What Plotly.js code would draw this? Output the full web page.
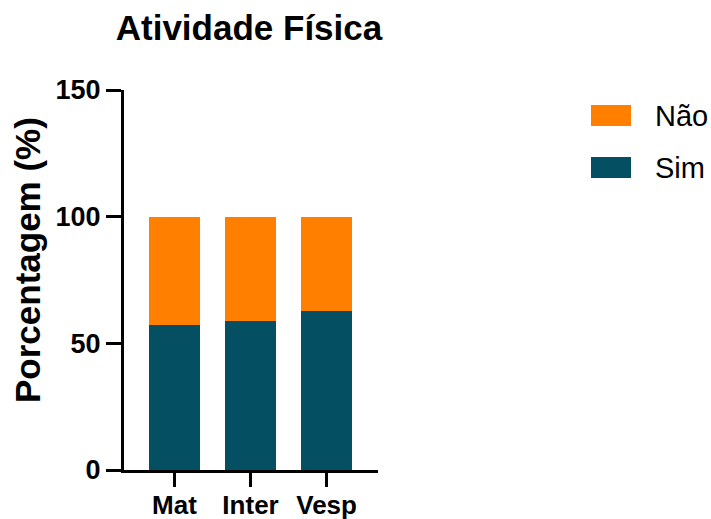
<!DOCTYPE html>
<html>
<head>
<meta charset="utf-8">
<script src="https://cdn.plot.ly/plotly-3.0.1.min.js"></script>
<style>html,body{margin:0;padding:0;background:#fff;}#chart{width:711px;height:519px;}</style>
</head>
<body>
<div id="chart"></div>
<script>
const categories = ["Mat", "Inter", "Vesp"];
const simValues = [57.4, 58.9, 62.9];
const naoValues = [42.6, 41.1, 37.1];
const seriesNames = ["Sim", "Não"];
const seriesColors = ["#044F62", "#FF8000"];
const yTicks = [0, 50, 100, 150];

const FONT = "Arial, 'Liberation Sans', sans-serif";
const L = 124, T = 90, W = 254, H = 380;
const px = (x) => (x - L) / W;
const py = (y) => (T + H - y) / H;

const traces = [
  {type: "bar", x: categories, y: simValues, name: seriesNames[0],
   marker: {color: seriesColors[0], line: {width: 0}}, width: 0.67, showlegend: false, hoverinfo: "skip"},
  {type: "bar", x: categories, y: naoValues, name: seriesNames[1],
   marker: {color: seriesColors[1], line: {width: 0}}, width: 0.67, showlegend: false, hoverinfo: "skip"}
];

// custom legend (large swatches like the reference)
const legendItems = [
  {name: seriesNames[1], color: seriesColors[1]},
  {name: seriesNames[0], color: seriesColors[0]}
];
const shapes = [];
const annotations = [];
legendItems.forEach((it, i) => {
  const y0 = 105 + i * 52;
  shapes.push({type: "rect", xref: "paper", yref: "paper",
    x0: px(591), x1: px(631), y0: py(y0 + 21), y1: py(y0),
    fillcolor: it.color, line: {width: 0}});
  annotations.push({xref: "paper", yref: "paper", x: px(653), y: py(y0 + 11),
    xanchor: "left", yanchor: "middle", text: it.name, showarrow: false,
    font: {family: FONT, size: 29, color: "#000"}});
});
// y-axis title
annotations.push({xref: "paper", yref: "paper", x: px(27), y: py(260), textangle: -90,
  xanchor: "center", yanchor: "middle", text: "<b>Porcentagem (%)</b>", showarrow: false,
  font: {family: FONT, size: 35, color: "#000"}});

const layout = {
  width: 711, height: 519,
  margin: {l: L, r: 711 - L - W, t: T, b: 519 - T - H},
  paper_bgcolor: "#fff", plot_bgcolor: "#fff",
  barmode: "stack",
  showlegend: false,
  title: {text: "<b>Atividade Física</b>", x: 249 / 711, xanchor: "center", y: 1 - 28 / 519, yanchor: "middle",
    font: {family: FONT, size: 35, color: "#000"}},
  xaxis: {range: [-0.664, 2.676], showline: true, linewidth: 3, linecolor: "#000",
    ticks: "outside", ticklen: 14, tickwidth: 3, tickcolor: "#000", ticklabelstandoff: -4,
    tickfont: {family: FONT, size: 26, color: "#000", weight: "bold"}, showgrid: false, zeroline: false, fixedrange: true},
  yaxis: {range: [0, 150], tickvals: yTicks, ticktext: yTicks.map(String), showline: true, linewidth: 3, linecolor: "#000",
    ticks: "outside", ticklen: 15, tickwidth: 3, tickcolor: "#000",
    tickfont: {family: FONT, size: 27, color: "#000", weight: "bold"}, showgrid: false, zeroline: false, fixedrange: true},
  shapes: shapes,
  annotations: annotations
};

Plotly.newPlot("chart", traces, layout, {displayModeBar: false, staticPlot: true});
</script>
</body>
</html>
